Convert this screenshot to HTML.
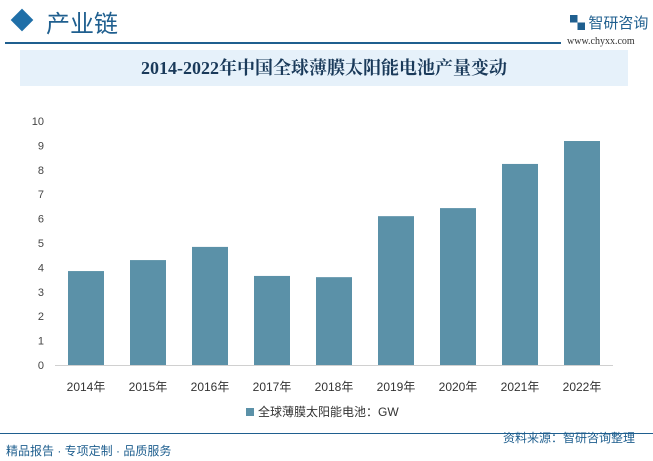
<!DOCTYPE html>
<html><head><meta charset="utf-8"><style>
body{margin:0;width:653px;height:461px;background:#fff;font-family:"Liberation Sans","Noto Sans CJK SC",sans-serif;position:relative;overflow:hidden}
.a{position:absolute}
</style></head><body>
<div class="a" style="left:14px;top:12px;width:16px;height:16px;background:#1f6fa8;transform:rotate(45deg)"></div>
<div class="a" style="left:46px;top:7px;font-size:24px;color:#1f5f8f;font-family:'Noto Sans CJK SC',sans-serif;line-height:30px">产业链</div>
<div class="a" style="left:5px;top:42px;width:556px;height:2px;background:#1f5f8f"></div>
<div class="a" style="left:570px;top:12px;font-size:15px;color:#1f5f8f;font-family:'Noto Sans CJK SC',sans-serif">▚ 智研咨询</div>
<div class="a" style="left:567px;top:36px;font-size:10px;color:#333;font-family:'Liberation Serif',serif">www.chyxx.com</div>
<div class="a" style="left:20px;top:50px;width:608px;height:36px;background:#e6f1fa;text-align:center;font-family:'Liberation Serif','Noto Serif CJK SC',serif;font-weight:bold;font-size:18px;line-height:36px;color:#1a3a5a">2014-2022年中国全球薄膜太阳能电池产量变动</div>
<svg class="a" style="left:0;top:0" width="653" height="461" id="chart"></svg>
<div class="a" style="left:0;top:433px;width:653px;height:1px;background:#1f5f8f"></div>
<div class="a" style="left:6px;top:442px;font-size:12px;color:#1f5f8f">精品报告 · 专项定制 · 品质服务</div>
<div class="a" style="left:503px;top:429px;font-size:12px;color:#1f5f8f">资料来源：智研咨询整理</div>
<script>
const categories=["2014年","2015年","2016年","2017年","2018年","2019年","2020年","2021年","2022年"];
const values=[3.85,4.3,4.84,3.65,3.6,6.1,6.43,8.24,9.18];
const yTicks=[0,1,2,3,4,5,6,7,8,9,10];
const svg=document.getElementById('chart');const NS='http://www.w3.org/2000/svg';
const x0=55,x1=613,y0=365,y1=121,yMax=10;
const bw=(x1-x0)/categories.length;
const y=v=>y0-(v/yMax)*(y0-y1);
const xc=i=>x0+bw*(i+0.5);
function mk(t,a){const e=document.createElementNS(NS,t);for(const k in a)e.setAttribute(k,a[k]);svg.appendChild(e);return e;}
yTicks.forEach(t=>{const e=mk('text',{x:44,y:y(t)+4,'text-anchor':'end','font-size':11,fill:'#444'});e.textContent=t;

});
const ax=mk('line',{x1:x0,x2:x1,y1:y0+0.5,y2:y0+0.5,stroke:'#d0d0d0'});


values.forEach((v,i)=>{const r=mk('rect',{x:xc(i)-18,y:y(v),width:36,height:y0-y(v),fill:'#5b91a8'});


const t=mk('text',{x:xc(i),y:391,'text-anchor':'middle','font-size':12,fill:'#333'});t.textContent=categories[i];

});
const lg=mk('rect',{x:246,y:408,width:8,height:8,fill:'#5b91a8'});


const lt=mk('text',{x:258,y:416,'font-size':12,fill:'#333'});lt.textContent='全球薄膜太阳能电池：GW';


</script>
</body></html>
